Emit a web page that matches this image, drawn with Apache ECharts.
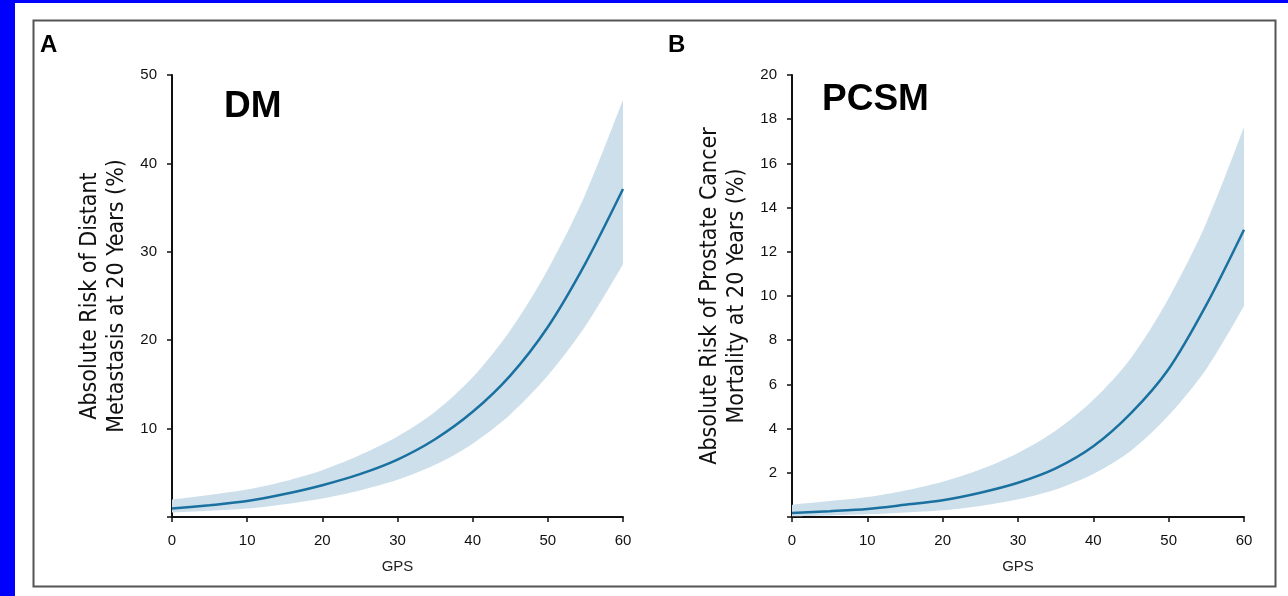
<!DOCTYPE html>
<html>
<head>
<meta charset="utf-8">
<script src="https://cdn.jsdelivr.net/npm/echarts@6/dist/echarts.min.js"></script>
<style>
  html, body { margin: 0; padding: 0; background: #fff; }
  #main { width: 1288px; height: 596px; }
</style>
</head>
<body>
<div id="main"></div>
<script>
// GPS values read every 5 units
var gps = ['0', '5', '10', '15', '20', '25', '30', '35', '40', '45', '50', '55', '60'];

// A: distant metastasis (%)
var dmRisk  = [0.95, 1.33, 1.8, 2.6, 3.6, 4.85, 6.5, 8.8, 11.9, 16.0, 21.5, 28.7, 37.1];
var dmLower = [0.5, 0.7, 0.95, 1.45, 2.1, 3.0, 4.2, 5.9, 8.3, 11.6, 16.0, 21.6, 28.6];
var dmUpper = [1.98, 2.5, 3.1, 4.05, 5.3, 7.0, 9.1, 11.9, 15.8, 21.1, 28.0, 36.5, 47.2];

// B: prostate cancer specific mortality (%)
var pcsmRisk  = [0.18, 0.26, 0.36, 0.55, 0.76, 1.1, 1.55, 2.2, 3.2, 4.7, 6.7, 9.6, 13.0];
var pcsmLower = [0.03, 0.07, 0.12, 0.2, 0.3, 0.5, 0.8, 1.25, 1.95, 3.0, 4.6, 6.7, 9.55];
var pcsmUpper = [0.55, 0.72, 0.9, 1.2, 1.6, 2.15, 2.9, 3.9, 5.3, 7.2, 9.9, 13.3, 17.65];

var lineColor = '#1a71a0';
var bandColor = '#cddfeb';
var narrow = "'Liberation Sans Narrow', 'DejaVu Sans Condensed', sans-serif";
var regular = "'Liberation Sans', Arial, sans-serif";
var smoothness = 0.3;

function diff(up, lo) {
  return up.map(function (u, i) { return +(u - lo[i]).toFixed(3); });
}

function xAx(idx) {
  return {
    type: 'category', gridIndex: idx, data: gps, boundaryGap: false,
    name: 'GPS', nameLocation: 'middle', nameGap: 42,
    nameTextStyle: { fontFamily: regular, fontSize: 15, color: '#222' },
    axisLine: { lineStyle: { color: '#111', width: 2 } },
    axisTick: { length: 5, interval: 1, lineStyle: { color: '#111', width: 1.5 } },
    axisLabel: { fontFamily: regular, fontSize: 15, color: '#111', margin: 16, interval: 1 },
    splitLine: { show: false }
  };
}
function yAx(idx, max, interval, title) {
  return {
    type: 'value', gridIndex: idx, min: 0, max: max, interval: interval,
    name: title, nameLocation: 'middle', nameGap: 41,
    nameTextStyle: { fontFamily: narrow, fontSize: 23, color: '#111', lineHeight: 27 },
    axisLine: { show: true, lineStyle: { color: '#111', width: 2 } },
    axisTick: { show: true, length: 5, lineStyle: { color: '#111', width: 1.5 } },
    axisLabel: {
      fontFamily: regular, fontSize: 15, color: '#111', margin: 15,
      formatter: function (v) { return v === 0 ? '' : v; }
    },
    splitLine: { show: false }
  };
}
function bandSeries(idx, lo, up, key) {
  return [{
    type: 'line', xAxisIndex: idx, yAxisIndex: idx, stack: key, smooth: smoothness,
    symbol: 'none', silent: true, lineStyle: { opacity: 0 },
    data: lo
  }, {
    type: 'line', xAxisIndex: idx, yAxisIndex: idx, stack: key, smooth: smoothness,
    symbol: 'none', silent: true, lineStyle: { opacity: 0 },
    areaStyle: { color: bandColor, opacity: 1 },
    data: diff(up, lo)
  }];
}
function riskSeries(idx, ys) {
  return {
    type: 'line', xAxisIndex: idx, yAxisIndex: idx, smooth: smoothness,
    symbol: 'none', lineStyle: { color: lineColor, width: 2.5 },
    data: ys, z: 5
  };
}

var chart = echarts.init(document.getElementById('main'), null, { renderer: 'canvas' });
chart.setOption({
  animation: false,
  backgroundColor: '#fff',
  grid: [
    { left: 172, top: 75, width: 451, height: 442 },
    { left: 792, top: 75, width: 452, height: 442 }
  ],
  xAxis: [xAx(0), xAx(1)],
  yAxis: [
    yAx(0, 50, 10, 'Absolute Risk of Distant\nMetastasis at 20 Years (%)'),
    yAx(1, 20, 2, 'Absolute Risk of Prostate Cancer\nMortality at 20 Years (%)')
  ],
  series: []
    .concat(bandSeries(0, dmLower, dmUpper, 'dm'))
    .concat([riskSeries(0, dmRisk)])
    .concat(bandSeries(1, pcsmLower, pcsmUpper, 'pcsm'))
    .concat([riskSeries(1, pcsmRisk)]),
  graphic: [
    { type: 'rect', left: 0, top: 0, shape: { width: 15, height: 596 }, style: { fill: '#0000ff' } },
    { type: 'rect', left: 0, top: 0, shape: { width: 1288, height: 3 }, style: { fill: '#0000ff' } },
    { type: 'rect', left: 31, top: 18, shape: { width: 1242, height: 566 },
      style: { fill: 'none', stroke: '#555', lineWidth: 2 }, z: -1 },
    { type: 'text', left: 40, top: 33, style: { text: 'A', font: 'bold 24px ' + regular, fill: '#000' } },
    { type: 'text', left: 668, top: 33, style: { text: 'B', font: 'bold 24px ' + regular, fill: '#000' } },
    { type: 'text', left: 224, top: 88, style: { text: 'DM', font: 'bold 37px ' + regular, fill: '#000' } },
    { type: 'text', left: 822, top: 81, style: { text: 'PCSM', font: 'bold 37px ' + regular, fill: '#000' } }
  ]
});
</script>
</body>
</html>
